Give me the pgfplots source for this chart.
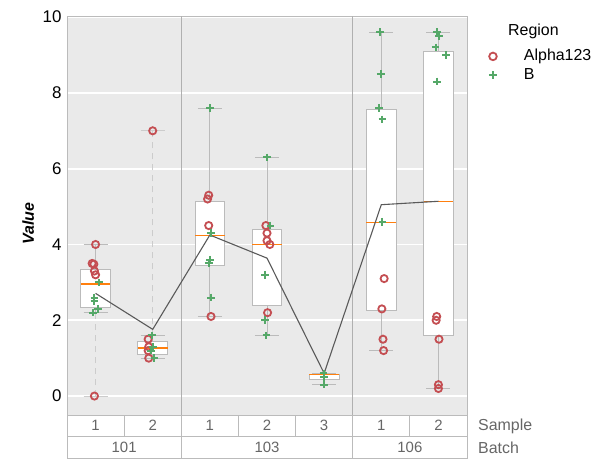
\documentclass[border=0pt]{standalone}
\usepackage{fontspec}
\setmainfont{Liberation Sans}
\usepackage{pgfplots}
\pgfplotsset{compat=1.18}
\usepgfplotslibrary{statistics}
\definecolor{bg}{HTML}{EAEAEA}
\definecolor{redc}{HTML}{C44E52}
\definecolor{greenc}{HTML}{55A868}
\definecolor{boxc}{HTML}{BBBBBB}
\definecolor{sepc}{HTML}{B0B0B0}
\definecolor{medc}{HTML}{FF7F0E}
\definecolor{linec}{HTML}{5A5A5A}
\definecolor{txtgray}{HTML}{666666}
\definecolor{dashc}{HTML}{CCCCCC}

\begin{document}
\begin{tikzpicture}
\begin{axis}[
  name=ax, at={(0,0)}, anchor=south west,
  scale only axis, width=400bp, height=399bp,
  xmin=-0.5, xmax=6.5, ymin=-0.5, ymax=10.03,
  axis background/.style={fill=bg},
  axis line style={boxc, line width=0.8bp},
  ytick={0,2,4,6,8,10}, xtick=\empty,
  ymajorgrids, grid style={white, line width=1.6bp},
  major tick length=0pt,
  yticklabel style={font=\fontsize{17}{20}\selectfont, /pgf/number format/assume math mode=true, xshift=-2bp},
  ylabel={\bfseries\itshape Value},
  ylabel style={font=\fontsize{16}{19}\selectfont, at={(axis description cs:-0.097,0.48)}, anchor=center},
  clip=false,
  boxplot/draw direction=y,
  legend style={at={(axis description cs:1.047,0.923)}, anchor=north west, draw=none, fill=none,
    font=\fontsize{16}{19}\selectfont, legend cell align=left,
    nodes={inner sep=0pt, text height=12bp, text depth=3bp}, row sep=4bp, column sep=27bp},
]
% batch separators
\draw[sepc, line width=0.8bp] (axis cs:1.5,-0.5) -- (axis cs:1.5,10.03);
\draw[sepc, line width=0.8bp] (axis cs:4.5,-0.5) -- (axis cs:4.5,10.03);

% boxplots
\pgfplotsset{mybox/.style={draw=boxc, fill=white, line width=0.8bp, forget plot,
   boxplot/box extend=0.52, boxplot/whisker extend=0.42,
   boxplot/every median/.style={draw=medc, line width=1.3bp}}}
\addplot[mybox, boxplot prepared={draw position=0, lower whisker=2.2, lower quartile=2.34, median=2.96, upper quartile=3.34, upper whisker=4.0}] coordinates {};
\addplot[mybox, boxplot prepared={draw position=1, lower whisker=1.0, lower quartile=1.09, median=1.27, upper quartile=1.44, upper whisker=1.6}] coordinates {};
\addplot[mybox, boxplot prepared={draw position=2, lower whisker=2.1, lower quartile=3.46, median=4.24, upper quartile=5.13, upper whisker=7.6}] coordinates {};
\addplot[mybox, boxplot prepared={draw position=3, lower whisker=1.6, lower quartile=2.4, median=4.0, upper quartile=4.4, upper whisker=6.3}] coordinates {};
\addplot[mybox, boxplot prepared={draw position=4, lower whisker=0.3, lower quartile=0.44, median=0.56, upper quartile=0.58, upper whisker=0.6}] coordinates {};
\addplot[mybox, boxplot prepared={draw position=5, lower whisker=1.2, lower quartile=2.27, median=4.58, upper quartile=7.56, upper whisker=9.6}] coordinates {};
\addplot[mybox, boxplot prepared={draw position=6, lower whisker=0.2, lower quartile=1.59, median=5.14, upper quartile=9.1, upper whisker=9.6}] coordinates {};

% dashed ranges
\addplot[dashc, dashed, dash pattern=on 6bp off 5bp, line width=1bp, forget plot] coordinates {(0,0.0) (0,2.2)};
\addplot[dashc, line width=1bp, forget plot] coordinates {(-0.21,0.0) (0.21,0.0)};
\addplot[dashc, dashed, dash pattern=on 6bp off 5bp, line width=1bp, forget plot] coordinates {(1,1.6) (1,7.0)};
\addplot[dashc, line width=1bp, forget plot] coordinates {(0.79,7.0) (1.21,7.0)};

% mean line
\addplot[linec, line width=1.1bp, forget plot] coordinates {(0,2.71) (1,1.76) (2,4.25) (3,3.64) (4,0.6) (5,5.05) (6,5.14)};

% Alpha123 points
\addplot[only marks, mark=o, mark size=3.6bp, redc, line width=1.8bp, forget plot] coordinates {
(0.0,4.0) (-0.06,3.5) (-0.03,3.48) (-0.02,3.3) (0.0,3.2) (-0.02,0.0)
(1.0,7.0) (0.92,1.5) (0.93,1.3) (0.92,1.2) (0.93,1.0)
(1.98,5.3) (1.96,5.2) (1.98,4.5) (2.02,2.1)
(2.98,4.5) (3.0,4.3) (3.0,4.1) (3.05,4.0) (3.01,2.2)
(5.05,3.1) (5.01,2.3) (5.03,1.5) (5.04,1.2)
(5.97,2.1) (5.96,2.0) (6.01,1.5) (6.0,0.3) (6.0,0.2)
};
% B points
\addplot[only marks, mark=+, mark size=3.8bp, greenc, line width=2bp, forget plot] coordinates {
(0.06,3.0) (-0.02,2.6) (-0.02,2.5) (0.04,2.3) (-0.05,2.2)
(0.99,1.6) (1.01,1.3) (0.97,1.2) (1.03,1.0)
(2.0,7.6) (2.02,4.3) (2.0,3.6) (1.98,3.5) (2.02,2.6)
(3.0,6.3) (3.06,4.5) (2.97,3.2) (2.97,2.0) (2.99,1.6)
(3.99,0.6) (4.0,0.5) (4.0,0.3)
(4.98,9.6) (4.99,8.5) (4.96,7.6) (5.02,7.3) (5.02,4.6)
(5.98,9.6) (6.01,9.5) (5.95,9.2) (6.13,9.0) (5.98,8.3)
};

\addlegendimage{only marks, mark=o, mark size=3.8bp, redc, line width=1.8bp}
\addlegendentry{Alpha123}
\addlegendimage{only marks, mark=+, mark size=4bp, greenc, line width=2bp}
\addlegendentry{B}
\end{axis}

% legend title
\node[anchor=west, font=\fontsize{16}{19}\selectfont, inner sep=0pt] at (441bp,384bp) {Region};

% table below axis
\pgfmathsetmacro{\cw}{400/7}
\foreach \i/\lab in {0/1,1/2,2/1,3/2,4/3,5/1,6/2}{
  \draw[boxc, fill=white, line width=0.8bp] ({\i*\cw*1bp},0bp) rectangle ({(\i+1)*\cw*1bp},-21bp);
  \node[txtgray, font=\fontsize{15}{18}\selectfont, inner sep=0pt] at ({(\i+0.5)*\cw*1bp},-10.5bp) {\lab};
}
\foreach \a/\b/\lab in {0/2/101,2/5/103,5/7/106}{
  \draw[boxc, fill=white, line width=0.8bp] ({\a*\cw*1bp},-21bp) rectangle ({\b*\cw*1bp},-43bp);
  \node[txtgray, font=\fontsize{15}{18}\selectfont, inner sep=0pt] at ({(\a+\b)/2*\cw*1bp},-32bp) {\lab};
}
\node[txtgray, anchor=west, font=\fontsize{16}{19}\selectfont, inner sep=0pt] at (411bp,-11bp) {Sample};
\node[txtgray, anchor=west, font=\fontsize{16}{19}\selectfont, inner sep=0pt] at (411bp,-33bp) {Batch};

\pgfresetboundingbox
\path[use as bounding box] (-67bp,-55bp) rectangle (545bp,415bp);
\end{tikzpicture}
\end{document}
